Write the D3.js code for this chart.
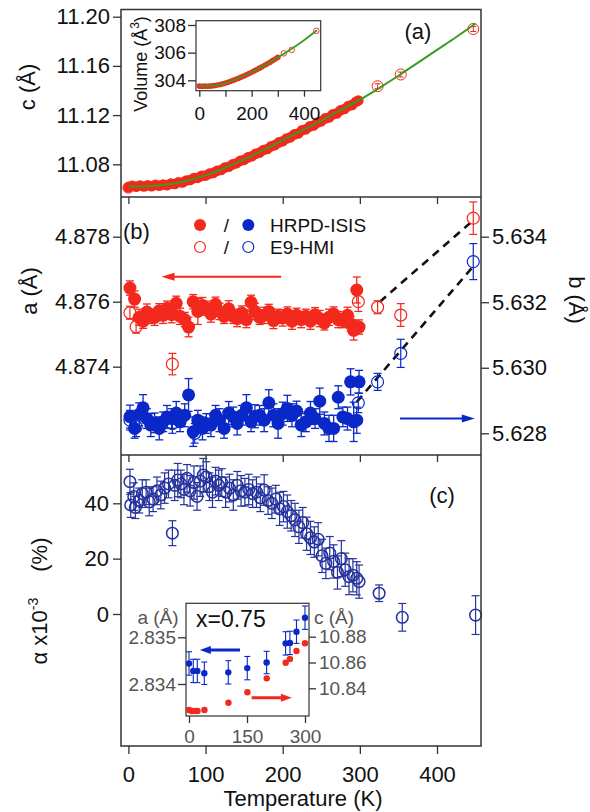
<!DOCTYPE html>
<html><head><meta charset="utf-8">
<script src="https://cdn.jsdelivr.net/npm/d3@7"></script>
<style>
html,body{margin:0;padding:0;background:#fff;}
svg{display:block;font-family:"Liberation Sans",Arial,Helvetica,sans-serif;}
</style></head><body>
<svg id="chart" width="590" height="812"></svg>
<script>
// ================= DATA =================
// Panel (a): c lattice parameter (Å) vs T (K), HRPD-ISIS
const cT   = [0,5,10,15,20,25,30,35,40,45,50,55,60,65,70,75,80,85,90,95,100,105,110,115,120,125,130,135,140,145,150,155,160,165,170,175,180,185,190,195,200,205,210,215,220,225,230,235,240,245,250,255,260,265,270,275,280,285,290,295,298];
const cVal = [11.0612,11.0626,11.0618,11.0628,11.0620,11.0630,11.0622,11.0633,11.0626,11.0636,11.0630,11.0643,11.0640,11.0654,11.0652,11.0668,11.0672,11.0688,11.0690,11.0706,11.0708,11.0724,11.0730,11.0748,11.0754,11.0773,11.0780,11.0799,11.0808,11.0828,11.0836,11.0856,11.0866,11.0886,11.0895,11.0916,11.0925,11.0946,11.0956,11.0978,11.0988,11.1010,11.1019,11.1043,11.1051,11.1076,11.1084,11.1108,11.1116,11.1140,11.1149,11.1173,11.1181,11.1206,11.1214,11.1240,11.1249,11.1273,11.1283,11.1308,11.1318];
// Panel (a): E9-HMI c
const cE9T   = [0,323,353,447];
const cE9    = [11.0610,11.1435,11.1530,11.1900];
const cE9Err = [0.002,0.002,0.002,0.002];
// Panel (a): fit (green)
const cFitT = [0,25,50,75,100,125,150,175,200,225,250,275,300,325,350,375,400,425,450];
const cFit  = [11.0620,11.0622,11.0635,11.0665,11.0710,11.0770,11.0840,11.0915,11.0995,11.1075,11.1155,11.1240,11.1325,11.1420,11.1520,11.1625,11.1730,11.1835,11.1945];
// Inset (a): volume (Å^3)
const vT   = [0,10,20,30,40,50,60,70,80,90,100,110,120,130,140,150,160,170,180,190,200,210,220,230,240,250,260,270,280,290,300];
const vVal = [303.58,303.57,303.58,303.57,303.58,303.60,303.62,303.66,303.70,303.75,303.80,303.86,303.93,304.00,304.07,304.15,304.23,304.31,304.40,304.49,304.58,304.68,304.78,304.88,304.98,305.09,305.20,305.31,305.42,305.54,305.66];
const vE9T = [323,353,447];
const vE9  = [305.95,306.20,307.58];
const vFitT = [0,50,100,150,200,250,300,350,400,450];
const vFit  = [303.60,303.60,303.80,304.15,304.58,305.08,305.65,306.25,306.90,307.62];

// Panel (b): HRPD-ISIS a (left axis) and b (right axis)
const bT   = [2,8,14,19,24,29,34,40,45,50,56,62,67,73,78,84,90,96,101,107,113,118,124,130,136,141,147,153,159,164,170,176,182,188,194,200,206,212,218,224,230,236,242,248,254,260,266,272,278,284,288,292,296,299];
const aH   = [4.87642,4.87608,4.87552,4.87540,4.87568,4.87555,4.87552,4.87572,4.87558,4.87580,4.87560,4.87595,4.87555,4.87545,4.87522,4.87600,4.87570,4.87588,4.87580,4.87562,4.87592,4.87570,4.87555,4.87578,4.87555,4.87548,4.87565,4.87545,4.87598,4.87570,4.87552,4.87558,4.87570,4.87542,4.87555,4.87550,4.87562,4.87540,4.87558,4.87545,4.87555,4.87540,4.87560,4.87548,4.87535,4.87552,4.87562,4.87545,4.87542,4.87558,4.87532,4.87512,4.87636,4.87522];
const aHErr= [0.00022,0.00025,0.00025,0.00022,0.00025,0.00022,0.00025,0.00022,0.00025,0.00022,0.00025,0.00022,0.00025,0.00022,0.00030,0.00022,0.00040,0.00025,0.00022,0.00025,0.00022,0.00025,0.00022,0.00025,0.00022,0.00025,0.00022,0.00025,0.00022,0.00025,0.00022,0.00025,0.00022,0.00025,0.00022,0.00025,0.00022,0.00025,0.00022,0.00025,0.00022,0.00025,0.00022,0.00025,0.00022,0.00025,0.00022,0.00025,0.00022,0.00025,0.00022,0.00030,0.00040,0.00022];
const bH   = [5.62851,5.62815,5.62858,5.62878,5.62845,5.62825,5.62832,5.62815,5.62835,5.62850,5.62845,5.62862,5.62835,5.62855,5.62917,5.62805,5.62840,5.62815,5.62830,5.62825,5.62855,5.62840,5.62815,5.62862,5.62850,5.62830,5.62855,5.62878,5.62835,5.62852,5.62855,5.62840,5.62893,5.62855,5.62830,5.62860,5.62876,5.62855,5.62868,5.62825,5.62835,5.62862,5.62845,5.62898,5.62830,5.62815,5.62815,5.62910,5.62850,5.62845,5.62957,5.62835,5.62840,5.62957];
const bHErr= [0.00035,0.00030,0.00035,0.00040,0.00030,0.00035,0.00030,0.00035,0.00030,0.00035,0.00030,0.00035,0.00030,0.00035,0.00050,0.00045,0.00030,0.00035,0.00030,0.00035,0.00030,0.00035,0.00030,0.00035,0.00030,0.00035,0.00030,0.00040,0.00030,0.00035,0.00030,0.00035,0.00040,0.00035,0.00045,0.00035,0.00040,0.00035,0.00030,0.00035,0.00030,0.00035,0.00030,0.00040,0.00035,0.00040,0.00040,0.00035,0.00030,0.00035,0.00040,0.00060,0.00040,0.00035];
// Panel (b): E9-HMI
const aE9T   = [2,10,57,298,323,353,447];
const aE9    = [4.87566,4.87523,4.87408,4.87600,4.87583,4.87559,4.87857];
const aE9Err = [0.00020,0.00020,0.00033,0.00030,0.00020,0.00035,0.00050];
const bE9T   = [2,10,57,86,298,323,353,447];
const bE9    = [5.62840,5.62820,5.62830,5.62800,5.62893,5.62957,5.63044,5.63324];
const bE9Err = [0.00030,0.00030,0.00030,0.00030,0.00030,0.00026,0.00043,0.00055];
// Panel (b): dashed guide lines
const guideAT = [326,443], guideA = [4.87600,4.87842];
const guideBT = [296,445], guideB = [5.62896,5.63304];

// Panel (c): alpha x 10^-3 (%)
const alT  = [2,3,7,9,14,18,23,27,32,37,42,47,52,57,60,64,68,72,76,80,85,89,93,97,101,105,109,113,117,121,126,131,136,141,146,151,156,161,166,171,176,181,186,191,196,201,206,211,216,221,226,231,236,241,246,251,256,261,266,271,276,281,286,291,296,299,325,355,450];
const alV  = [47.8,39.4,42.4,38.5,41,43.5,44,40.5,41.5,44.5,43,45.5,47,29.2,46.5,48.4,47,45,49,44.5,47.5,42.5,48,50.2,49.5,46,44,48,46.5,47.5,44,45.5,43,46.5,44.5,44,45,43.5,44,42,44.8,41,40,41.5,38,38.8,37,35.5,34,31.5,33,29,27.5,26,27,21,18.3,22,19,15,20,16,13.5,14,12.9,11.7,7.5,-1.2,-0.4];
const alErr= [4.5,4.5,5,4,4.5,5,4.5,5,4.5,5,5,5.5,5,4.5,5.5,6,5,5.5,5,5.5,6,5,5.5,6,5.5,5,5.5,5,5.5,5,5.5,5,5.5,5,5.5,5,5.5,5,5.5,5,5.5,5,5.5,5,6,5.5,6,5.5,6,6,5.5,6,6,5.5,6,6,5.5,6,6,6,6.5,6,6.5,6,6,6,3,5,7];

// Inset (c): x = 0.75
const icAT  = [0,11,21.5,39.6,101.6,150.7,200.7,249.8,261,278,300];
const icA   = [2.83444,2.83428,2.83428,2.83423,2.83425,2.83434,2.83446,2.83487,2.83488,2.83512,2.83542];
const icAErr= [0.00025,0.00025,0.00025,0.00024,0.00025,0.00025,0.00024,0.00025,0.00025,0.00025,0.00025];
const icCT  = [0,7,15,22,40,102,151,201,250,261,278,300];
const icC   = [10.8232,10.8224,10.8224,10.8224,10.8232,10.8288,10.8369,10.8477,10.8598,10.8627,10.8689,10.8749];

// Tick values
const xTicks = [0,100,200,300,400];
const cTicks = [11.08,11.12,11.16,11.20];
const vTicks = [304,306,308];
const vXTicks = [0,100,200,300,400];
const aTicks = [4.874,4.876,4.878];
const bTicks = [5.628,5.630,5.632,5.634];
const alTicks = [0,20,40];
const icXTicks = [0,150,300];
const icATicks = [2.834,2.835];
const icCTicks = [10.84,10.86,10.88];

// ================= DRAW =================
const RED='#f2291c', BLUE='#0a28c8', CBLUE='#24329e', GREEN='#3a9a22', INK='#333', GREY='#555';
const FONT='"Liberation Sans",Arial,Helvetica,sans-serif';
const svg=d3.select('#chart');
const L=121,R=481,TOP=9.5,B1=197,B2=455,B3=746;

const x   = d3.scaleLinear().domain([0,400]).range([128.4,437]);
const yA  = d3.scaleLinear().domain([11.08,11.20]).range([164.3,16.7]);
const yBa = d3.scaleLinear().domain([4.874,4.878]).range([366.7,236.7]);
const yBb = d3.scaleLinear().domain([5.628,5.634]).range([433.3,236.7]);
const yC  = d3.scaleLinear().domain([0,40]).range([614,503.3]);
const xIa = d3.scaleLinear().domain([0,400]).range([199.3,304]);
const yIa = d3.scaleLinear().domain([304,308]).range([80.3,25]);
const xIc = d3.scaleLinear().domain([0,300]).range([189,305]);
const yIcA= d3.scaleLinear().domain([2.834,2.835]).range([684,637.3]);
const yIcC= d3.scaleLinear().domain([10.84,10.88]).range([688.3,636.7]);

const zip=(t,v,e)=>t.map((d,i)=>({t:d,v:v[i],e:e?e[i]:0}));

function styleAxis(g,fs,color){
  g.attr('font-size',null).attr('font-family',null);
  g.select('.domain').remove();
  g.selectAll('.tick line').attr('stroke',INK).attr('stroke-width',1.3);
  g.selectAll('.tick text').attr('font-size',fs).attr('fill',color).attr('font-family',FONT);
}
function errbars(g,data,xs,ys,color,cap,sw){
  const e=g.append('g').attr('stroke',color).attr('stroke-width',sw).attr('fill','none');
  data.forEach(d=>{
    const X=xs(d.t), y1=ys(d.v-d.e), y2=ys(d.v+d.e);
    e.append('line').attr('x1',X).attr('x2',X).attr('y1',y1).attr('y2',y2);
    e.append('line').attr('x1',X-cap).attr('x2',X+cap).attr('y1',y1).attr('y2',y1);
    e.append('line').attr('x1',X-cap).attr('x2',X+cap).attr('y1',y2).attr('y2',y2);
  });
}
function dots(g,data,xs,ys,r,color,filled,sw){
  g.append('g').selectAll('circle').data(data).join('circle')
    .attr('cx',d=>xs(d.t)).attr('cy',d=>ys(d.v)).attr('r',r)
    .attr('fill',filled?color:'none').attr('stroke',color).attr('stroke-width',filled?0:(sw||1.2));
}
function arrow(g,x1,x2,y,color,w,hl,hw){
  const dir=Math.sign(x2-x1);
  g.append('line').attr('x1',x1).attr('x2',x2-dir*hl*0.8).attr('y1',y).attr('y2',y)
   .attr('stroke',color).attr('stroke-width',w);
  g.append('path').attr('d',`M${x2},${y}L${x2-dir*hl},${y-hw}L${x2-dir*hl},${y+hw}Z`).attr('fill',color);
}
function label(x0,y0,txt,fs,anchor,rot,color){
  const t=svg.append('text').attr('font-size',fs).attr('fill',color||'#111').attr('font-family',FONT)
    .attr('text-anchor',anchor||'middle');
  if(rot) t.attr('transform',`translate(${x0},${y0}) rotate(${rot})`); else t.attr('x',x0).attr('y',y0);
  t.text(txt); return t;
}

// ---------- Panel (a) ----------
const gA=svg.append('g');
dots(gA,zip(cT,cVal),x,yA,5.3,RED,true);
errbars(gA,zip(cE9T,cE9,cE9Err),x,yA,RED,3,1);
dots(gA,zip(cE9T,cE9),x,yA,5.5,RED,false,1);
gA.append('path').datum(zip(cFitT,cFit)).attr('fill','none').attr('stroke',GREEN).attr('stroke-width',2)
  .attr('d',d3.line().x(d=>x(d.t)).y(d=>yA(d.v)).curve(d3.curveMonotoneX));
styleAxis(svg.append('g').attr('transform',`translate(${L},0)`)
  .call(d3.axisLeft(yA).tickValues(cTicks).tickFormat(d3.format('.2f')).tickSize(8).tickPadding(3)),22,'#111');
label(35,87,'c (Å)',22,'middle',-90);
label(418,39,'(a)',22,'middle');

// Inset (a)
const iA=svg.append('g');
iA.append('rect').attr('x',196).attr('y',20.7).attr('width',124.7).attr('height',70).attr('fill','#fff')
  .attr('stroke',INK).attr('stroke-width',1.2);
dots(iA,zip(vT,vVal),xIa,yIa,2.8,RED,true);
dots(iA,zip(vE9T,vE9),xIa,yIa,2.8,RED,false,0.9);
iA.append('path').datum(zip(vFitT,vFit)).attr('fill','none').attr('stroke',GREEN).attr('stroke-width',1.8)
  .attr('d',d3.line().x(d=>xIa(d.t)).y(d=>yIa(d.v)).curve(d3.curveMonotoneX));
styleAxis(svg.append('g').attr('transform','translate(196,0)')
  .call(d3.axisLeft(yIa).tickValues(vTicks).tickFormat(d3.format('d')).tickSize(8).tickPadding(2)),19,'#111');
styleAxis(svg.append('g').attr('transform','translate(0,90.7)')
  .call(d3.axisBottom(xIa).tickValues(vXTicks).tickFormat(d=>d%200===0?d:'').tickSize(6).tickPadding(10)),19,'#111');
{
  const t=svg.append('text').attr('transform','translate(147,64) rotate(-90)').attr('text-anchor','middle')
    .attr('font-size',18).attr('font-family',FONT).attr('fill','#111');
  t.append('tspan').text('Volume (Å');
  t.append('tspan').attr('dy',-8).attr('font-size',12).text('3');
  t.append('tspan').attr('dy',8).text(')');
}

// ---------- Panel (b) ----------
const gB=svg.append('g');
gB.append('line').attr('x1',x(guideAT[0])).attr('x2',x(guideAT[1])).attr('y1',yBa(guideA[0])).attr('y2',yBa(guideA[1]))
  .attr('stroke','#111').attr('stroke-width',2.6).attr('stroke-dasharray','8,6');
gB.append('line').attr('x1',x(guideBT[0])).attr('x2',x(guideBT[1])).attr('y1',yBb(guideB[0])).attr('y2',yBb(guideB[1]))
  .attr('stroke','#111').attr('stroke-width',2.6).attr('stroke-dasharray','8,6');
errbars(gB,zip(aE9T,aE9,aE9Err),x,yBa,RED,4,1.2);
dots(gB,zip(aE9T,aE9),x,yBa,6,RED,false,1.2);
errbars(gB,zip(bE9T,bE9,bE9Err),x,yBb,BLUE,4,1.2);
dots(gB,zip(bE9T,bE9),x,yBb,6,BLUE,false,1.2);
errbars(gB,zip(bT,aH,aHErr),x,yBa,RED,4,1.3);
dots(gB,zip(bT,aH),x,yBa,6.5,RED,true);
errbars(gB,zip(bT,bH,bHErr),x,yBb,BLUE,4,1.3);
dots(gB,zip(bT,bH),x,yBb,6.5,BLUE,true);
arrow(gB,x(198),x(43),yBa(4.87677),RED,2,13,4);
arrow(gB,x(352),x(449),yBb(5.62845),BLUE,2,13,4);
styleAxis(svg.append('g').attr('transform',`translate(${L},0)`)
  .call(d3.axisLeft(yBa).tickValues(aTicks).tickFormat(d3.format('.3f')).tickSize(8).tickPadding(3)),22,'#111');
styleAxis(svg.append('g').attr('transform',`translate(${R},0)`)
  .call(d3.axisRight(yBb).tickValues(bTicks).tickFormat(d3.format('.3f')).tickSize(8).tickPadding(3)),22,'#111');
label(37,291,'a (Å)',22,'middle',-90);
label(569,300,'b (Å)',22,'middle',90);
label(123,239,'(b)',22,'start');
{
  const lg=svg.append('g');
  lg.append('circle').attr('cx',200).attr('cy',225).attr('r',6).attr('fill',RED);
  lg.append('circle').attr('cx',248.3).attr('cy',225).attr('r',6).attr('fill',BLUE);
  lg.append('circle').attr('cx',200).attr('cy',247).attr('r',5.5).attr('fill','none').attr('stroke',RED).attr('stroke-width',1.2);
  lg.append('circle').attr('cx',248.3).attr('cy',247).attr('r',5.5).attr('fill','none').attr('stroke',BLUE).attr('stroke-width',1.2);
  label(226.5,232,'/',19,'middle');
  label(226.5,254,'/',19,'middle');
  label(270,232,'HRPD-ISIS',19,'start');
  label(270,254,'E9-HMI',19,'start');
}

// ---------- Panel (c) ----------
const gC=svg.append('g');
errbars(gC,zip(alT,alV,alErr),x,yC,CBLUE,4,1.2);
dots(gC,zip(alT,alV),x,yC,5.8,CBLUE,false,1.5);
styleAxis(svg.append('g').attr('transform',`translate(${L},0)`)
  .call(d3.axisLeft(yC).tickValues(alTicks).tickSize(8).tickPadding(4)),22,'#111');
label(442,503,'(c)',22,'middle');
{
  const t=svg.append('text').attr('transform','translate(47,601) rotate(-90)').attr('text-anchor','middle')
    .attr('font-size',22).attr('font-family',FONT).attr('fill','#111');
  t.append('tspan').text('α x10');
  t.append('tspan').attr('dy',-9).attr('font-size',14).text('-3');
  t.append('tspan').attr('dy',9).attr('dx',26).text('(%)');
}

// Inset (c)
const iC=svg.append('g');
iC.append('rect').attr('x',186).attr('y',603.3).attr('width',123).attr('height',112.7).attr('fill','#fff')
  .attr('stroke',INK).attr('stroke-width',1.2);
errbars(iC,zip(icAT,icA,icAErr),xIc,yIcA,BLUE,3,1.1);
dots(iC,zip(icAT,icA),xIc,yIcA,3.2,BLUE,true);
dots(iC,zip(icCT,icC),xIc,yIcC,3.2,RED,true);
arrow(iC,xIc(132),xIc(28),yIcA(2.83473),BLUE,3,11,4);
arrow(iC,xIc(162),xIc(266),yIcC(10.8327),RED,3,11,4);
styleAxis(svg.append('g').attr('transform','translate(186,0)')
  .call(d3.axisLeft(yIcA).tickValues(icATicks).tickFormat(d3.format('.3f')).tickSize(8).tickPadding(2)),19,GREY);
styleAxis(svg.append('g').attr('transform','translate(309,0)')
  .call(d3.axisRight(yIcC).tickValues(icCTicks).tickFormat(d3.format('.2f')).tickSize(7).tickPadding(3)),19,GREY);
styleAxis(svg.append('g').attr('transform','translate(0,716)')
  .call(d3.axisBottom(xIc).tickValues(icXTicks).tickSize(7).tickPadding(7)),19,GREY);
label(158,624,'a (Å)',19,'middle',0,GREY);
label(314,624,'c (Å)',19,'start',0,GREY);
label(196,627,'x=0.75',23,'start',0,'#111');

// ---------- Frame + x axes ----------
svg.append('rect').attr('x',L).attr('y',TOP).attr('width',R-L).attr('height',B3-TOP)
  .attr('fill','none').attr('stroke',INK).attr('stroke-width',1.5);
svg.append('line').attr('x1',L).attr('x2',R).attr('y1',B1).attr('y2',B1).attr('stroke',INK).attr('stroke-width',1.5);
svg.append('line').attr('x1',L).attr('x2',R).attr('y1',B2).attr('y2',B2).attr('stroke',INK).attr('stroke-width',1.5);
styleAxis(svg.append('g').attr('transform',`translate(0,${B1})`)
  .call(d3.axisBottom(x).tickValues(xTicks).tickFormat('').tickSize(7)),22,'#111');
styleAxis(svg.append('g').attr('transform',`translate(0,${B2})`)
  .call(d3.axisBottom(x).tickValues(xTicks).tickFormat('').tickSize(7)),22,'#111');
styleAxis(svg.append('g').attr('transform',`translate(0,${B3})`)
  .call(d3.axisBottom(x).tickValues(xTicks).tickSize(8).tickPadding(12)),22,'#111');
label(303,806,'Temperature (K)',22,'middle');
</script></body></html>
